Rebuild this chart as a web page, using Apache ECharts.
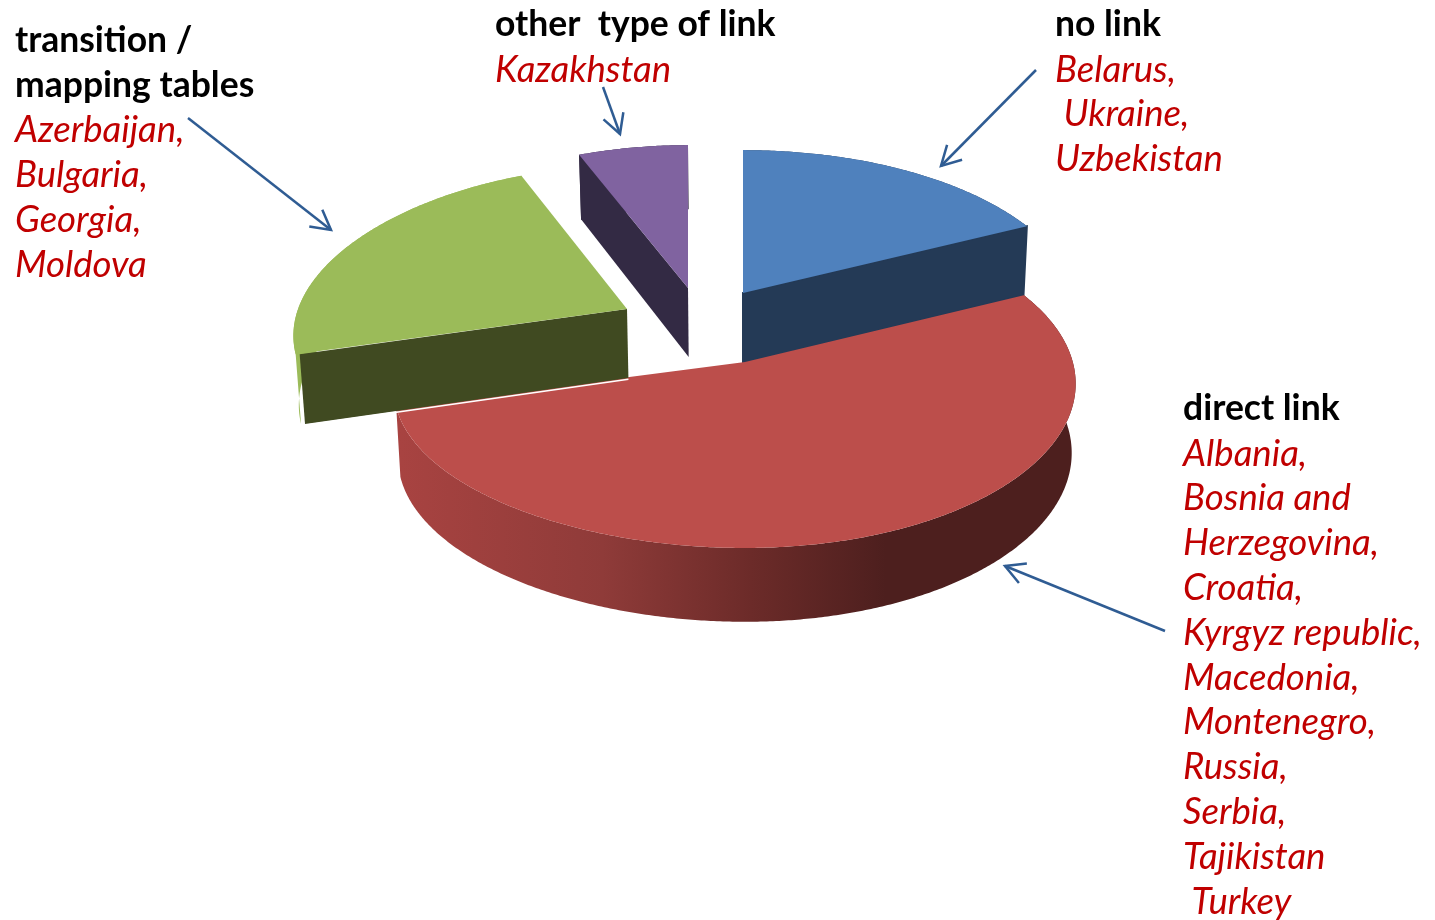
<!DOCTYPE html>
<html>
<head>
<meta charset="utf-8">
<style>html,body{margin:0;padding:0;background:#fff}#chart{width:1435px;height:920px}</style>
<script src="https://cdn.jsdelivr.net/npm/echarts@6/dist/echarts.min.js"></script>
</head>
<body>
<div id="chart"></div>
<script>
// Countries per type of link; a slice's share is its number of countries.
const linkTypes = ['no link', 'direct link', 'transition /\nmapping tables', 'other  type of link'];
const noLink = ['Belarus,', ' Ukraine,', 'Uzbekistan'];
const directLink = ['Albania,', 'Bosnia and', 'Herzegovina,', 'Croatia,', 'Kyrgyz republic,',
  'Macedonia,', 'Montenegro,', 'Russia,', 'Serbia,', 'Tajikistan', ' Turkey'];
const mappingTables = ['Azerbaijan,', 'Bulgaria,', 'Georgia,', 'Moldova'];
const otherLink = ['Kazakhstan'];
const countryCounts = [3, 10, 4, 1];

// Slice styling and the exploded apex of each slice
const sliceStyles = [
  { top: '#4f81bd', cut: '#243a56', wall: '#243a56', apex: [743, 293], scaleX: 1.018, depth: 71.5, cutStroke: true },
  { top: '#bc4e4b', cut: '#4d1f1e', wall: null, apex: [745, 362], scaleX: 1, depth: 69 },
  { top: '#9bbb59', cut: '#404a21', wall: '#9bbb59', apex: [627, 309], scaleX: 0.95, depth: 69, cutInset: 4, seam: true },
  { top: '#8063a0', cut: '#332a44', wall: '#332a44', apex: [688, 288], scaleX: 0.98, depth: 69 }
];

// Perspective of the tilted disc
const RX = 340, RY = 161.6, KX = 0.06, KY = 0.131, MX = 0.03;
const BOW_LEFT = 17, BOW_RIGHT = 12;
const VANISH_X = 745, CONVERGE = 0.988;

function topPoint(style, deg) {
  const a = deg * Math.PI / 180, u = Math.sin(a), v = -Math.cos(a);
  const x = style.apex[0] + style.scaleX * RX * u / (1 + MX * u - KX * v);
  const y = style.apex[1] + RY * v / (1 - KY * v) + (u < 0 ? BOW_LEFT : BOW_RIGHT) * u * u;
  return [x, y, v];
}
function bottomOf(p, depth) {
  return [VANISH_X + (p[0] - VANISH_X) * CONVERGE, p[1] + depth * (1 + 0.07 * p[2])];
}
function arc(style, from, to) {
  const n = Math.max(2, Math.ceil((to - from) * 2)), pts = [];
  for (let i = 0; i <= n; i++) pts.push(topPoint(style, from + (to - from) * i / n));
  return pts;
}
// A cut face shows only when its outward normal points toward the viewer
function facesViewer(normalDeg) {
  return -Math.cos(normalDeg * Math.PI / 180) > 1e-6;
}
const redWallFill = new echarts.graphic.LinearGradient(400, 0, 1075, 0, [
  { offset: 0, color: '#a84341' }, { offset: 0.3, color: '#8f3b39' },
  { offset: 0.52, color: '#6c2b29' }, { offset: 0.72, color: '#4d1f1e' }, { offset: 1, color: '#4d1f1e' }
], true);

function renderSlice(params, api) {
  const i = params.dataIndex, style = sliceStyles[i];
  const total = countryCounts.reduce((s, c) => s + c, 0);
  let start = 0;
  for (let k = 0; k < i; k++) start += countryCounts[k] / total * 360;
  const end = start + api.value(0) / total * 360;
  const rim = arc(style, start, end);
  const apexTop = [style.apex[0], style.apex[1], 0];
  const inset = style.cutInset || 0;
  const children = [];
  const face = (a, rimPoint) => {
    const b = [rimPoint[0] + inset, rimPoint[1], rimPoint[2]];
    const shape = [a.slice(0, 2), b.slice(0, 2), bottomOf(b, style.depth), bottomOf(a, style.depth)];
    const faceStyle = { fill: style.cut };
    if (style.cutStroke) { faceStyle.stroke = style.cut; faceStyle.lineWidth = 2; }
    children.push({ type: 'polygon', shape: { points: shape }, style: faceStyle });
    if (style.seam) {
      // Thin light gap along the lower edge of the cut face
      const l = bottomOf(a, style.depth), r = bottomOf(b, style.depth);
      children.push({ type: 'polyline', shape: { points: [[l[0], l[1] + 1.2], [r[0], r[1] + 1.2]] }, style: { stroke: '#ffffff', lineWidth: 1.5, fill: null } });
    }
  };
  const wallPts = rim.map(p => p.slice(0, 2)).concat(rim.map(p => bottomOf(p, style.depth)).reverse());
  children.push({ type: 'polygon', shape: { points: wallPts }, style: { fill: style.wall || redWallFill } });
  if (facesViewer(start - 90)) face(apexTop, rim[0]);
  if (facesViewer(end + 90)) face(apexTop, rim[rim.length - 1]);
  children.push({ type: 'polygon', shape: { points: [style.apex].concat(rim.map(p => p.slice(0, 2))) }, style: { fill: style.top } });
  return { type: 'group', children: children };
}

// Captions beside the pie
const captions = [
  { head: ['no link'], names: noLink, x: 1055, y: 25 },
  { head: ['direct link'], names: directLink, x: 1183, y: 409 },
  { head: ['transition /', 'mapping tables'], names: mappingTables, x: 15, y: 41 },
  { head: ['other  type of link'], names: otherLink, x: 495, y: 25 }
];
const LINE = 44.8, FONT = 'Lato, Carlito, sans-serif';
const textItems = [];
captions.forEach(c => {
  c.head.concat(c.names).forEach((line, n) => {
    const isHead = n < c.head.length;
    textItems.push({
      type: 'text', x: c.x, y: c.y + n * LINE,
      style: {
        text: line, fill: isHead ? '#000000' : '#c00000', fontFamily: FONT, fontSize: isHead ? 35.5 : 36.6,
        fontWeight: isHead ? 'bold' : 'normal', fontStyle: isHead ? 'normal' : 'italic',
        verticalAlign: 'middle', align: 'left'
      }
    });
  });
});

// Leader arrows from captions to slices
const arrows = [
  [[1036, 70], [941, 166]],
  [[1165, 631], [1005, 566]],
  [[188, 118], [331, 230]],
  [[603, 87], [620, 134]]
];
const arrowItems = [];
arrows.forEach(([from, to]) => {
  const ang = Math.atan2(to[1] - from[1], to[0] - from[0]), len = 22, spread = 0.5;
  const lineStyle = { stroke: '#2f5c93', lineWidth: 2.5, fill: null };
  arrowItems.push({ type: 'polyline', shape: { points: [from, to] }, style: lineStyle });
  arrowItems.push({
    type: 'polyline',
    shape: { points: [
      [to[0] - len * Math.cos(ang - spread), to[1] - len * Math.sin(ang - spread)], to,
      [to[0] - len * Math.cos(ang + spread), to[1] - len * Math.sin(ang + spread)]
    ] },
    style: lineStyle
  });
});

const chart = echarts.init(document.getElementById('chart'), null, { renderer: 'canvas' });
chart.setOption({
  backgroundColor: '#ffffff',
  animation: false,
  graphic: { elements: textItems.concat(arrowItems) },
  series: [{
    type: 'custom',
    coordinateSystem: 'none',
    silent: true,
    renderItem: renderSlice,
    data: linkTypes.map((name, i) => ({ name: name, value: [countryCounts[i]] }))
  }]
});
</script>
</body>
</html>
